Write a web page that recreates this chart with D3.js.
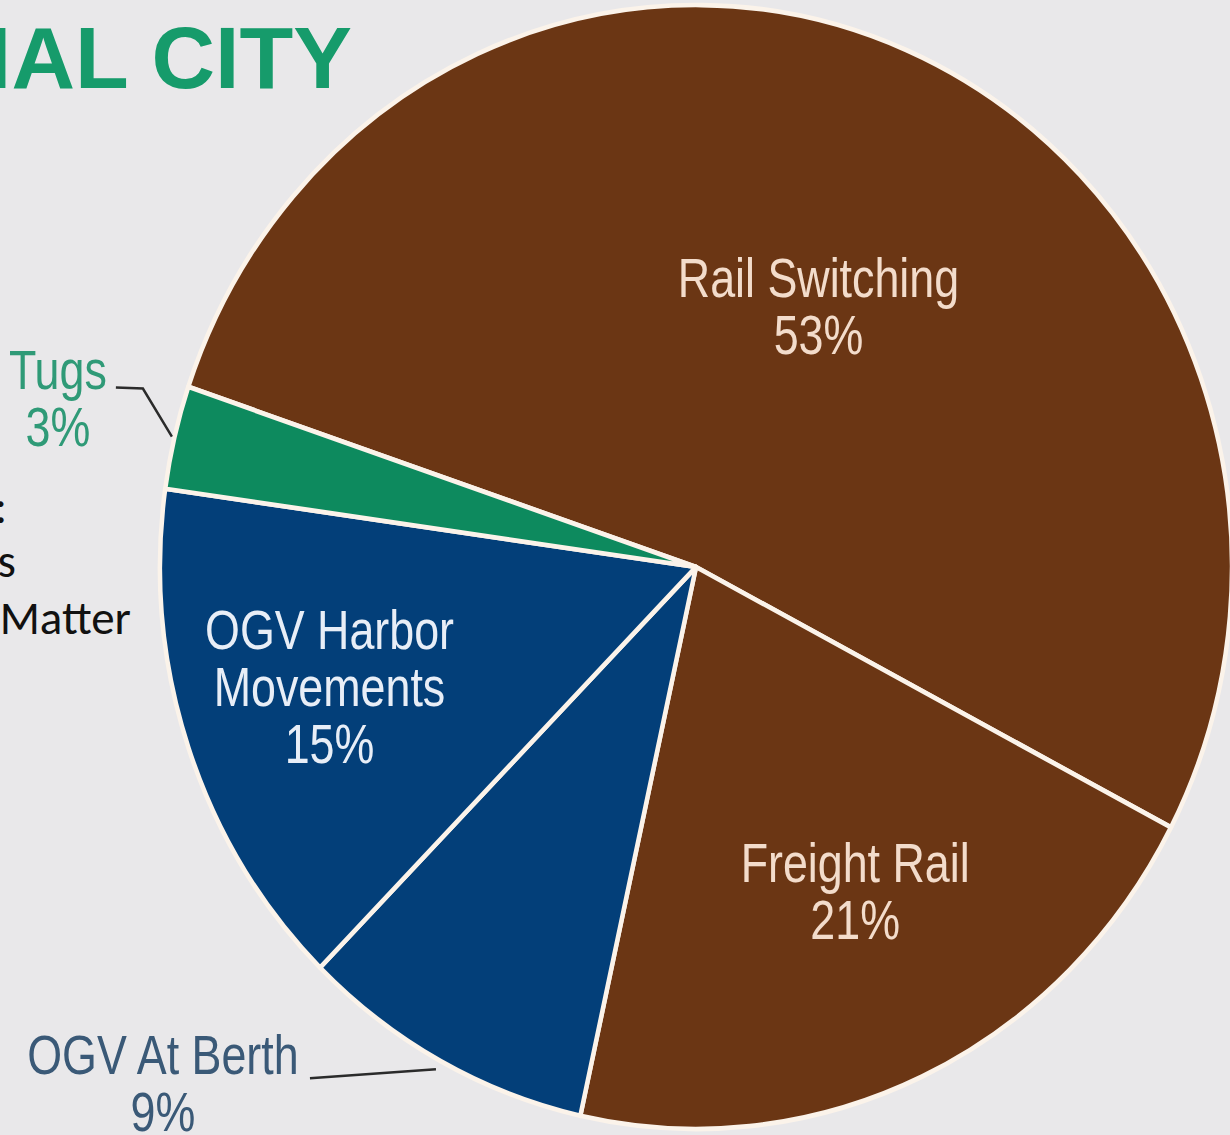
<!DOCTYPE html>
<html>
<head>
<meta charset="utf-8">
<script src="https://cdn.jsdelivr.net/npm/d3@7"></script>
<style>
  html, body { margin: 0; padding: 0; background: #e9e8ea; }
  svg { display: block; }
</style>
</head>
<body>
<div id="viz"></div>
<script>
// slice data, drawn clockwise from the Tugs / Rail Switching border
const categories = ["Rail Switching", "Freight Rail", "OGV At Berth", "OGV Harbor Movements", "Tugs"];
const shares = [53, 21, 9, 15, 3];
const labelLines = [["Rail Switching"], ["Freight Rail"], ["OGV At Berth"], ["OGV Harbor", "Movements"], ["Tugs"]];
const sliceColors = ["#6b3614", "#6b3614", "#033f79", "#033f79", "#0d8a5e"];

const titleText = "NATIONAL CITY";
const sideText = ["Emission Sources:", "Percent of Emissions", "Diesel Particulate Matter"];

const width = 1230;
const height = 1135;

const svg = d3.select("#viz")
    .append("svg")
    .attr("width", width)
    .attr("height", height)
    .attr("viewBox", `0 0 ${width} ${height}`);

svg.append("rect")
    .attr("width", width)
    .attr("height", height)
    .attr("fill", "#e9e8ea");

const cx = 696, cy = 567;
const radius = 536;
const squash = 1.0485;   // the pie in the picture is a bit taller than wide
const startDeg = -71.3;

const pie = d3.pie()
    .sort(null)
    .value(d => d.value)
    .startAngle(startDeg * Math.PI / 180)
    .endAngle(startDeg * Math.PI / 180 + 2 * Math.PI);

const data = categories.map((c, i) => ({
    name: c,
    value: shares[i],
    lines: labelLines[i],
    color: sliceColors[i]
}));
const arcs = pie(data);

const arc = d3.arc().innerRadius(0).outerRadius(radius);

// title + side text (both cut off by the frame)
svg.append("text")
    .attr("x", 352)
    .attr("y", 88)
    .attr("text-anchor", "end")
    .attr("font-family", "'Liberation Sans', Arial, sans-serif")
    .attr("font-weight", "bold")
    .attr("font-size", 88)
    .attr("fill", "#169b6b")
    .text(titleText);

const sideEnds = [[7, 523], [16, 577], [131, 634]];
svg.append("g")
    .selectAll("text")
    .data(sideText)
    .enter().append("text")
        .attr("x", (d, i) => sideEnds[i][0])
        .attr("y", (d, i) => sideEnds[i][1])
        .attr("text-anchor", "end")
        .attr("font-family", "Calibri, Carlito, Lato, sans-serif")
        .attr("font-size", 47)
        .attr("fill", "#111")
        .text(d => d);

const g = svg.append("g")
    .attr("transform", `translate(${cx}, ${cy})`);

g.append("g")
    .attr("transform", `scale(1, ${squash})`)
    .selectAll("path")
    .data(arcs)
    .enter().append("path")
        .attr("d", arc)
        .attr("fill", d => d.data.color)
        .attr("stroke", "#fbf3ea")
        .attr("stroke-width", 4.5)
        .attr("stroke-linejoin", "round");

// point at a given angle and radius factor, in page space
const polar = (angle, rf) => [
    Math.sin(angle) * radius * rf,
    -Math.cos(angle) * radius * rf * squash
];
const midAngle = d => (d.startAngle + d.endAngle) / 2;

// no narrow face installed: squeeze Liberation Sans instead
const fontFamily = "'Liberation Sans', Arial, sans-serif";
const narrow = 0.8;
const fontSize = 56;
const lineH = 57;

// labels inside slices
const inside = {
    "Rail Switching":       {rf: 0.51, dx: 15, dy: 8, fill: "#f3dccb"},
    "Freight Rail":         {rf: 0.655, dx: 11, dy: -5, fill: "#f3dccb"},
    "OGV Harbor Movements": {rf: 0.72, dx: -1, dy: -5, fill: "#e8eef7"}
};
// labels outside with leader lines
const outside = {
    "Tugs":         {lx: -114, ly: -48, fill: "#2f9a77",
                     leader: [[0, 0], [-29, -48], [-56, -49]]},
    "OGV At Berth": {lx: -276, ly: 11, fill: "#3a5977",
                     leader: [[-3, 6], [-129, 15]]}
};

const addLabel = (x, y0, lines, fill) => {
    g.append("text")
        .attr("transform", `translate(${x}, 0) scale(${narrow}, 1)`)
        .attr("text-anchor", "middle")
        .attr("font-family", fontFamily)
        .attr("font-size", fontSize)
        .attr("fill", fill)
        .selectAll("tspan")
        .data(lines)
        .enter().append("tspan")
            .attr("x", 0)
            .attr("y", (t, i) => y0 + i * lineH)
            .text(t => t);
};

arcs.forEach(d => {
    const lines = d.data.lines.concat([`${d.data.value}%`]);
    const ins = inside[d.data.name];
    if (ins) {
        const [px, py] = polar(midAngle(d), ins.rf);
        const top = py + ins.dy - (lines.length * lineH) / 2 + 54 * 0.72 + 4;
        addLabel(px + ins.dx, top, lines, ins.fill);
    }
    const out = outside[d.data.name];
    if (out) {
        const [px, py] = polar(midAngle(d), 1.005);
        g.append("path")
            .attr("d", d3.line()(out.leader.map(p => [px + p[0], py + p[1]])))
            .attr("fill", "none")
            .attr("stroke", "#2b2b2b")
            .attr("stroke-width", 2.5);
        addLabel(px + out.lx, py + out.ly, lines, out.fill);
    }
});
</script>
</body>
</html>
